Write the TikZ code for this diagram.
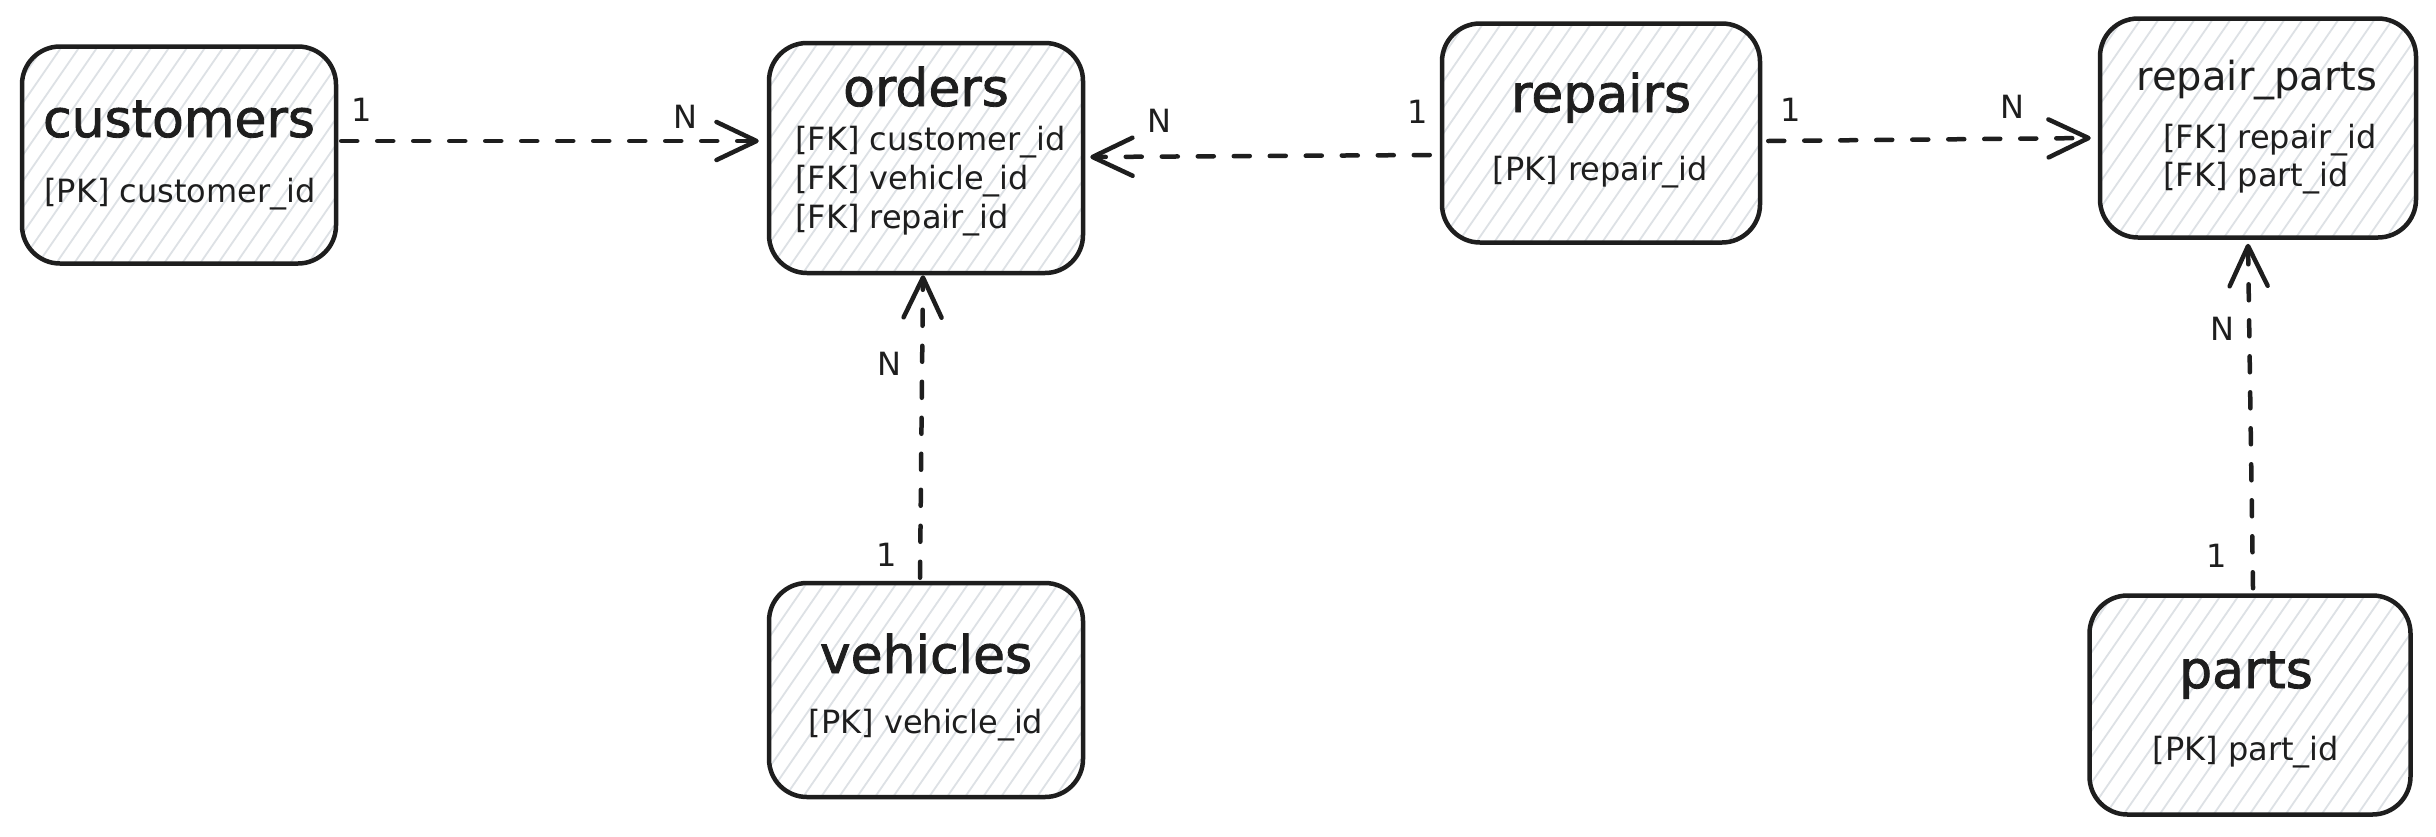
\documentclass[tikz,border=0pt]{standalone}
\usepackage{fontspec}
\setmainfont{DejaVu Sans}
\newfontfamily\titlefont[FakeBold=1.6]{DejaVu Sans}
\usetikzlibrary{arrows.meta,calc}
\definecolor{ink}{HTML}{1E1E1E}
\definecolor{hatchc}{HTML}{DDE1E5}
\tikzset{
  tbl/.style={rectangle, draw=ink, line width=4.5pt, rounded corners=38pt, inner sep=0pt,
    path picture={\foreach \k in {0,...,34}{\draw[hatchc, line width=1.8pt]
      ([xshift=\k*18pt-200pt]path picture bounding box.south west) -- ++(250pt,362pt);}}},
  ttl/.style={font=\titlefont\fontsize{52}{60}\selectfont, text=ink, inner sep=0pt, anchor=base},
  subttl/.style={font=\fontsize{40}{48}\selectfont, text=ink, inner sep=0pt, anchor=base},
  fld/.style={font=\fontsize{32}{39}\selectfont, text=ink, inner sep=0pt, anchor=base},
  lfld/.style={fld, anchor=base west},
  card/.style={font=\fontsize{32}{39}\selectfont, text=ink, inner sep=0pt},
  rel/.style={draw=ink, line width=4.5pt, dash pattern=on 16pt off 20pt, line cap=round,
    -{Straight Barb[length=40pt,width=38pt,round]}},
}
\begin{document}
\begin{tikzpicture}[x=1pt,y=-1pt]
\useasboundingbox (0,0) rectangle (2436,836);
\fill[white] (0,0) rectangle (2436,836);

% tables
\node[tbl, minimum width=314pt, minimum height=217pt] (customers) at (179,155) {};
\node[tbl, minimum width=314pt, minimum height=230pt] (orders) at (926,158) {};
\node[tbl, minimum width=318pt, minimum height=219pt] (repairs) at (1601,133) {};
\node[tbl, minimum width=316pt, minimum height=219pt] (repairparts) at (2258,128) {};
\node[tbl, minimum width=314pt, minimum height=214pt] (vehicles) at (926,690) {};
\node[tbl, minimum width=321pt, minimum height=219pt] (parts) at (2250,705) {};

% texts
\node[ttl] (customersT) at (179,137) {customers};
\node[fld] (customersF) at (180,202) {[PK] customer\_id};

\node[ttl] (ordersT) at (926,106) {orders};
\node[lfld] (ordersF1) at (795,150) {[FK] customer\_id};
\node[lfld] (ordersF2) at (795,189) {[FK] vehicle\_id};
\node[lfld] (ordersF3) at (795,228) {[FK] repair\_id};

\node[ttl] (repairsT) at (1601,112) {repairs};
\node[fld] (repairsF) at (1600,180) {[PK] repair\_id};

\node[subttl] (repairpartsT) at (2257,90) {repair\_parts};
\node[lfld] (repairpartsF1) at (2163,148) {[FK] repair\_id};
\node[lfld] (repairpartsF2) at (2163,186) {[FK] part\_id};

\node[ttl] (vehiclesT) at (926,673) {vehicles};
\node[fld] (vehiclesF) at (926,733) {[PK] vehicle\_id};

\node[ttl] (partsT) at (2246,688) {parts};
\node[fld] (partsF) at (2246,760) {[PK] part\_id};

% relations
\draw[rel] ([xshift=3pt,yshift=14pt]customers.east) -- ([xshift=-8pt,yshift=17pt]orders.west);
\draw[rel] ([xshift=-10pt,yshift=-22pt]repairs.west) -- ([xshift=5pt,yshift=1pt]orders.east);
\draw[rel] ([xshift=6pt,yshift=-8pt]repairs.east) -- ([xshift=-7pt,yshift=-10pt]repairparts.west);
\draw[rel] ([xshift=-6pt,yshift=3pt]vehicles.north) -- ([xshift=-3pt]orders.south);
\draw[rel] ([xshift=3pt,yshift=5pt]parts.north) -- ([xshift=-10pt,yshift=-4pt]repairparts.south);

% cardinalities
\node[card] (c1) at (362,110) {1};
\node[card] (c2) at (685,117) {N};
\node[card] (r1) at (1418,112) {1};
\node[card] (r2) at (1159,121) {N};
\node[card] (p1) at (1791,110) {1};
\node[card] (p2) at (2012,107) {N};
\node[card] (v1) at (887,555) {1};
\node[card] (v2) at (889,364) {N};
\node[card] (q1) at (2217,556) {1};
\node[card] (q2) at (2222,329) {N};
\end{tikzpicture}
\end{document}
